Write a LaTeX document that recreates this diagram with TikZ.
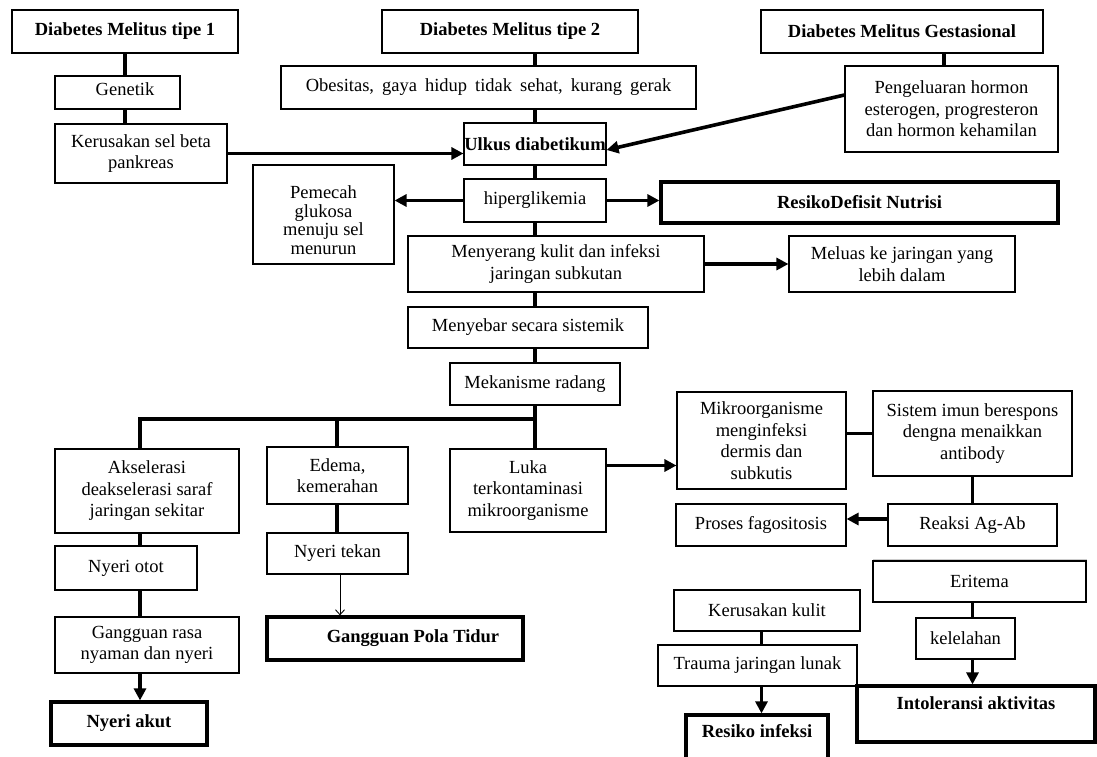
\documentclass[tikz,border=0pt]{standalone}
\usepackage{fontspec}
\setmainfont{Liberation Serif}
\usetikzlibrary{arrows.meta}
\begin{document}
\begin{tikzpicture}[x=1pt,y=-1pt,
  bx/.style={draw, line width=1.1pt, inner sep=0pt, align=center, font=\fontsize{18.5}{21.5}\selectfont},
  bb/.style={bx, font=\fontsize{18.5}{21.5}\selectfont\bfseries},
  tb/.style={bb, line width=3.2pt},
  conn/.style={line width=3.6pt},
  arr/.style={line width=3.6pt, -{Triangle[length=12pt,width=12pt]}},
  thinarr/.style={line width=0.9pt, -{Straight Barb[length=5pt,width=9pt]}},
  txt/.style={inner sep=0pt, align=center, font=\fontsize{18.5}{21.5}\selectfont\bfseries},
  ntxt/.style={inner sep=0pt, align=center, font=\fontsize{18.5}{18.5}\selectfont}
]
\useasboundingbox (0,0) rectangle (1097,757);
\clip (0,0) rectangle (1097,757);
\fill[white] (0,0) rectangle (1097,757);

% top row
\node[bb, minimum width=226pt, minimum height=43pt] (dm1) at (125,31.5) {Diabetes Melitus tipe 1};
\node[bb, minimum width=256pt, minimum height=43pt] (dm2) at (510,31.5) {Diabetes Melitus tipe 2};
\node[bb, minimum width=282pt, minimum height=43pt] (dmg) at (902,31.5) {Diabetes Melitus Gestasional};

\node[bx, minimum width=125pt, minimum height=33pt] (gen) at (117.5,92.5) {};
\node[ntxt] (gen-t) at (125,89) {Genetik};
\node[bx, minimum width=415pt, minimum height=43pt] (obes) at (488.5,87.5) {\spaceskip=8pt plus 1pt Obesitas, gaya hidup tidak sehat, kurang gerak};
\node[bx, minimum width=213pt, minimum height=86pt] (peng) at (951.5,109) {Pengeluaran hormon\\esterogen, progresteron\\dan hormon kehamilan};
\node[bx, minimum width=172pt, minimum height=59pt] (kerus) at (141,153.5) {Kerusakan sel beta\\pankreas};
\node[bb, minimum width=142pt, minimum height=42pt] (ulkus) at (535,144) {Ulkus diabetikum};
\node[bx, minimum width=141pt, minimum height=99pt] (pem) at (323.5,214.5) {};
\node[ntxt] (pem-t) at (323.5,220) {Pemecah\\glukosa\\menuju sel\\menurun};
\node[bx, minimum width=142pt, minimum height=43pt] (hiper) at (535,200.5) {hiperglikemia};
\node[tb, minimum width=397pt, minimum height=41pt] (rdn) at (859.5,202.5) {ResikoDefisit Nutrisi};
\node[bx, minimum width=296pt, minimum height=56pt] (meny) at (556,264) {Menyerang kulit dan infeksi\\jaringan subkutan};
\node[bx, minimum width=226pt, minimum height=56pt] (meluas) at (902,264) {Meluas ke jaringan yang\\lebih dalam};
\node[bx, minimum width=240pt, minimum height=41pt] (sebar) at (528,327.5) {Menyebar secara sistemik};
\node[bx, minimum width=170pt, minimum height=42pt] (meka) at (535,384) {Mekanisme radang};

% bottom left
\node[bx, minimum width=184pt, minimum height=84pt] (aksel) at (147,491) {Akselerasi\\deakselerasi saraf\\jaringan sekitar};
\node[bx, minimum width=141pt, minimum height=57pt] (edema) at (337.5,475.5) {Edema,\\kemerahan};
\node[bx, minimum width=156pt, minimum height=83pt] (luka) at (528,490.5) {Luka\\terkontaminasi\\mikroorganisme};
\node[bx, minimum width=142pt, minimum height=44pt] (nyotot) at (126,568) {Nyeri otot};
\node[bx, minimum width=141pt, minimum height=41pt] (nytekan) at (337.5,553.5) {Nyeri tekan};
\node[bx, minimum width=184pt, minimum height=56pt] (grasa) at (147,645) {Gangguan rasa\\nyaman dan nyeri};
\node[tb, minimum width=256pt, minimum height=43pt] (gpt) at (395,638.5) {};
\node[txt] (gpt-t) at (413,638.5) {Gangguan Pola Tidur};
\node[tb, minimum width=156pt, minimum height=43pt] (nakut) at (129,723.5) {Nyeri akut};

% right side
\node[bx, minimum width=169pt, minimum height=97pt] (mikro) at (761.5,440.5) {Mikroorganisme\\menginfeksi\\dermis dan\\subkutis};
\node[bx, minimum width=199pt, minimum height=85pt] (sistem) at (972.5,433.5) {Sistem imun berespons\\dengna menaikkan\\antibody};
\node[bx, minimum width=169pt, minimum height=42pt] (reaksi) at (972.5,525) {Reaksi Ag-Ab};
\node[bx, minimum width=170pt, minimum height=42pt] (proses) at (761,525) {Proses fagositosis};
\node[bx, minimum width=213pt, minimum height=41pt] (eritema) at (979.5,581.5) {Eritema};
\node[bx, minimum width=99pt, minimum height=41pt] (kelel) at (965.5,638.5) {kelelahan};
\node[bx, minimum width=186pt, minimum height=41pt] (kkulit) at (767,610.5) {Kerusakan kulit};
\node[bx, minimum width=199pt, minimum height=41pt] (trauma) at (757.5,665.5) {Trauma jaringan lunak};
\node[tb, minimum width=238pt, minimum height=56pt] (into) at (976,714) {};
\node[txt] (into-t) at (976,703) {Intoleransi aktivitas};
\node[tb, minimum width=142pt, minimum height=60pt] (rinf) at (757,745) {};
\node[txt] (rinf-t) at (757,731) {Resiko infeksi};

% helper coordinates
\coordinate (pgx) at (944,0);
\coordinate (jn) at (535,419);
\coordinate (jl) at (140,419);
\coordinate (je) at (337,419);
\coordinate (gl1) at (873,559);
\coordinate (gl2) at (1087,559);

% connectors top
\draw[conn] (dm1.south) -- (dm1.south |- gen.north);
\draw[conn] (gen.south -| dm1.south) -- (kerus.north -| dm1.south);
\draw[conn] (dm2.south -| ulkus.north) -- (obes.north -| ulkus.north);
\draw[conn] (obes.south -| ulkus.north) -- (ulkus.north);
\draw[conn] (dmg.south -| pgx) -- (peng.north -| pgx);
\draw[arr] (kerus.east) -- (kerus.east -| ulkus.west);
\draw[arr] ([yshift=14pt]peng.west) -- ([yshift=-6pt]ulkus.east);
\draw[conn] (ulkus.south) -- (hiper.north);
\draw[arr] (hiper.west) -- (hiper.west -| pem.east);
\draw[arr] (hiper.east) -- (hiper.east -| rdn.west);
\draw[conn] (hiper.south) -- (hiper.south |- meny.north);
\draw[arr] (meny.east) -- (meny.east -| meluas.west);
\draw[conn] (hiper.south |- meny.south) -- (hiper.south |- sebar.north);
\draw[conn] (meka.north |- sebar.south) -- (meka.north);

% branch
\draw[conn] (meka.south) -- (meka.south |- luka.north);
\draw[conn] ([xshift=-1.8pt]jl) -- ([xshift=1.8pt]jn);
\draw[conn] (jl) -- (jl |- aksel.north);
\draw[conn] (je) -- (je |- edema.north);
\draw[conn] (aksel.south -| jl) -- (nyotot.north -| jl);
\draw[conn] (nyotot.south -| jl) -- (grasa.north -| jl);
\draw[arr] (grasa.south -| jl) -- (nakut.north -| jl);
\draw[conn] (edema.south -| je) -- (nytekan.north -| je);
\draw[thinarr] ([xshift=3pt]nytekan.south -| je) -- ([xshift=3pt]gpt.north -| je);

% right connectors
\draw[arr] ([yshift=25pt]luka.east) -- ([yshift=25pt]luka.east -| mikro.west);
\draw[conn] ([yshift=7pt]mikro.east) -- ([yshift=7pt]mikro.east -| sistem.west);
\draw[conn] (sistem.south) -- (reaksi.north);
\draw[arr] ([yshift=6pt]reaksi.west) -- ([yshift=6pt]reaksi.west -| proses.east);
\draw[conn] (eritema.south -| reaksi.north) -- (kelel.north -| reaksi.north);
\draw[arr] (kelel.south -| reaksi.north) -- (into.north -| reaksi.north);
\draw[conn] (kkulit.south -| mikro.south) -- (trauma.north -| mikro.south);
\draw[arr] (trauma.south -| mikro.south) -- (rinf.north -| mikro.south);
\draw[gray!40, line width=0.8pt] (gl1) -- (gl2);
\end{tikzpicture}
\end{document}
